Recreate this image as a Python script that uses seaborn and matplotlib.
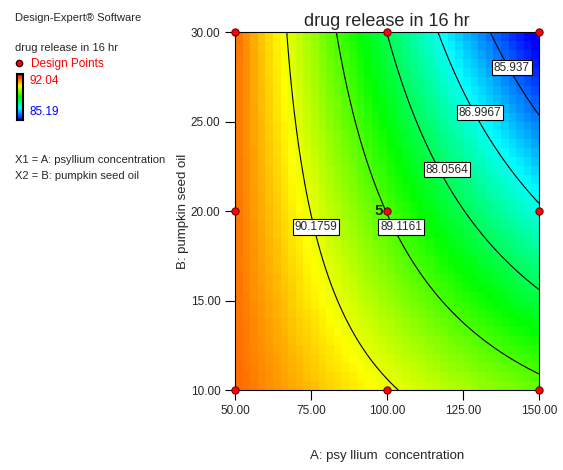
import numpy as np
import matplotlib.pyplot as plt
import seaborn as sns
from matplotlib.colors import LinearSegmentedColormap

# design points (A: psyllium, B: pumpkin seed oil)
design_a = [50, 50, 50, 100, 100, 100, 150, 150, 150]
design_b = [10, 20, 30, 10, 20, 30, 10, 20, 30]
center_reps = 5

# quadratic model in coded units, estimated from the contour lines
# terms: intercept, A, B, AB, A^2, B^2
coef_values = [89.10, -2.09, -1.10, -1.08, 0.08, 0.05]

contour_levels = [85.937, 86.9967, 88.0564, 89.1161, 90.1759]
resp_low, resp_high = 85.19, 92.04

sns.set_style("white")
plt.rcParams["font.family"] = ["Liberation Sans", "DejaVu Sans"]

de_cmap = LinearSegmentedColormap.from_list(
    "designexpert", ["#0000ff", "#00ffff", "#00ff00", "#ffff00", "#ff0000"])


def model(a, b):
    A = (a - 100) / 50
    B = (b - 20) / 10
    c = coef_values
    return c[0] + c[1]*A + c[2]*B + c[3]*A*B + c[4]*A**2 + c[5]*B**2


fig = plt.figure(figsize=(5.63, 4.70), dpi=100)
ax = fig.add_axes([0.4174, 0.1702, 0.54, 0.7617])

# coarse colour grid like the original
ea = np.linspace(50, 150, 41)
eb = np.linspace(10, 30, 41)
ca = (ea[:-1] + ea[1:]) / 2
cb = (eb[:-1] + eb[1:]) / 2
CA, CB = np.meshgrid(ca, cb)
ax.pcolormesh(ea, eb, model(CA, CB), cmap=de_cmap, vmin=resp_low, vmax=resp_high,
              shading="flat", rasterized=True)

fa = np.linspace(50, 150, 300)
fb = np.linspace(10, 30, 300)
FA, FB = np.meshgrid(fa, fb)
ax.contour(FA, FB, model(FA, FB), levels=contour_levels, colors="black", linewidths=0.8)

# contour value boxes
label_spots = [(141.1, 28.0), (130.6, 25.5), (119.7, 22.3), (104.6, 19.1), (76.6, 19.1)]
for lv, (lx, ly) in zip(contour_levels, label_spots):
    ax.text(lx, ly, f"{lv:g}", fontsize=8.5, ha="center", va="center", zorder=6,
            bbox=dict(facecolor="white", edgecolor="black", pad=1.2, linewidth=0.8))

# design points
sns.scatterplot(x=design_a, y=design_b, ax=ax, color="red", edgecolor="#600000",
                s=28, linewidth=0.7, zorder=7, clip_on=False)
ax.text(98.6, 20.0, str(center_reps), fontsize=11, fontweight="bold",
        ha="right", va="center", zorder=7)

ax.set_xlim(50, 150)
ax.set_ylim(10, 30)
ax.set_xticks([50, 75, 100, 125, 150])
ax.set_yticks([10, 15, 20, 25, 30])
ax.xaxis.set_major_formatter(plt.FormatStrFormatter("%.2f"))
ax.yaxis.set_major_formatter(plt.FormatStrFormatter("%.2f"))
ax.tick_params(axis="both", direction="out", length=7, width=0.8, labelsize=8.5,
               bottom=True, left=True, color="black")
for sp in ax.spines.values():
    sp.set_color("black")
    sp.set_linewidth(0.8)
ax.set_title("drug release in 16 hr", fontsize=13, pad=4)
ax.set_xlabel("A: psy llium  concentration", fontsize=9.5, labelpad=24)
ax.set_ylabel("B: pumpkin seed oil", fontsize=9.5, labelpad=1)

# left legend panel
fig.text(15/563, 1 - 18/470, "Design-Expert® Software", fontsize=8, va="center")
fig.text(15/563, 1 - 48/470, "drug release in 16 hr", fontsize=8, va="center")
fig.text(31/563, 1 - 64/470, "Design Points", fontsize=8.5, color="red", va="center")
fig.lines.append(plt.Line2D([19/563], [1 - 63/470], marker="o", color="red",
                            markeredgecolor="#300000", markersize=4.5,
                            transform=fig.transFigure))
cax = fig.add_axes([17/563, 1 - 120/470, 6/563, 46/470])
cax.imshow(np.linspace(1, 0, 100)[:, None], cmap=de_cmap, aspect="auto")
cax.set_xticks([])
cax.set_yticks([])
for sp in cax.spines.values():
    sp.set_color("black")
    sp.set_linewidth(1.5)
fig.text(30/563, 1 - 81/470, f"{resp_high:.2f}", fontsize=8.5, color="red", va="center")
fig.text(30/563, 1 - 112/470, f"{resp_low:.2f}", fontsize=8.5, color="blue", va="center")
fig.text(15/563, 1 - 160/470, "X1 = A: psyllium concentration", fontsize=8, va="center")
fig.text(15/563, 1 - 176/470, "X2 = B: pumpkin seed oil", fontsize=8, va="center")

plt.savefig("out.png", dpi=100)
